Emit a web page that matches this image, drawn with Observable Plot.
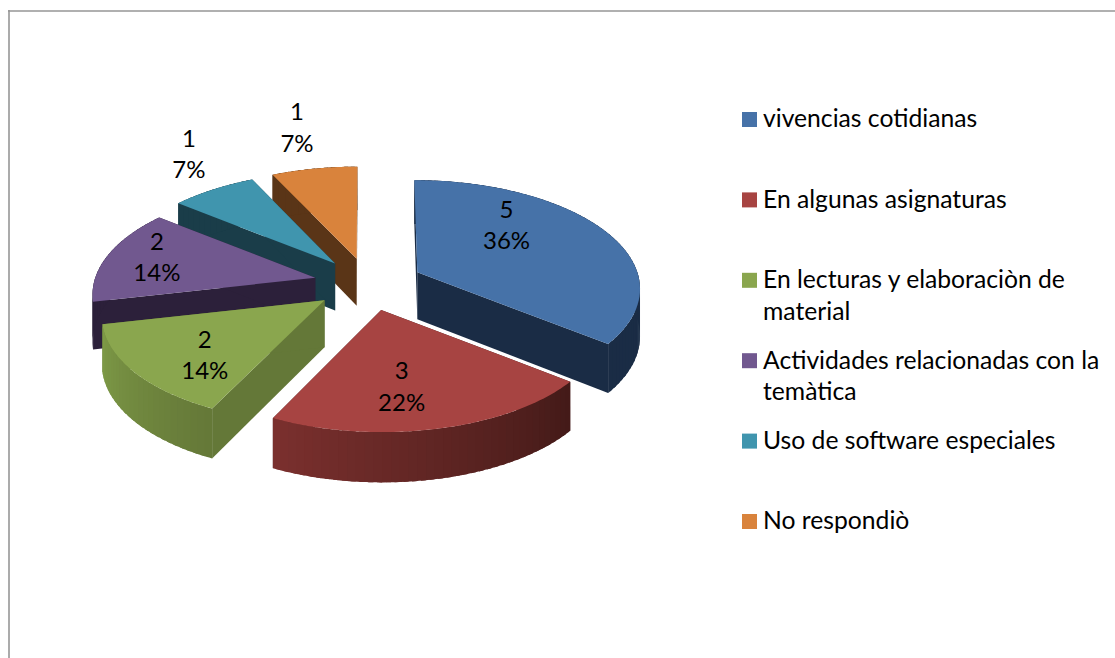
<!DOCTYPE html>
<html><head><meta charset="utf-8">
<script src="https://cdn.jsdelivr.net/npm/d3@7"></script>
<script src="https://cdn.jsdelivr.net/npm/@observablehq/plot@0.6"></script>
<style>html,body{margin:0;background:#fff}svg{display:block}</style>
</head><body><div id="chart"></div>
<script>
const categories = ["vivencias cotidianas","En algunas asignaturas","En lecturas y elaboraciòn de\nmaterial","Actividades relacionadas con la\ntemàtica","Uso de software especiales","No respondiò"];
const counts = [5,3,2,2,1,1];
const percents = ["36%","22%","14%","14%","7%","7%"];
const topColors = ["#4672a8","#a74442","#8aa64e","#71588f","#4095ae","#d9833c"];
const radialColors = ["#1a2c45","#431a18","#647838","#2c203a","#1a3d49","#5a3517"];
const rimStart = ["#1a2c45","#431a18","#647838","#2c203a","#1a3d49","#5a3517"];
const rimEnd = ["#1a2c45","#7b302e","#7f9b47","#2c203a","#1a3d49","#5a3517"];
const labelRadius = [0.65,0.67,0.70,0.77,1.448,1.545];
const labelAngle = [42.6,173,225.6,285,326.9,347.5];

const W=1115,H=658,CX=368,CY=283,R=220,K=105,P=0.14,EXPLODE=0.25,DEPTH=47;
const rad=d=>d*Math.PI/180;
const persp=Y=>1/(1-P*Y);
const total=d3.sum(counts);
const cum=d3.cumsum(counts);
const slices=counts.map((c,i)=>{
  const a0=(cum[i]-c)/total*360,a1=cum[i]/total*360,mid=(a0+a1)/2;
  const ex=EXPLODE*Math.sin(rad(mid)),ey=-EXPLODE*Math.cos(rad(mid)),s=persp(ey);
  return {i,a0,a1,ax:CX+ex*R*s,ay:CY+ey*K*s};
});
function rimPoint(sl,ang,r=1){
  const X=r*Math.sin(rad(ang)),Y=-r*Math.cos(rad(ang)),s=persp(Y);
  return {x:sl.ax+X*R*s+(sl.ax-CX)*(s-1)*0.5,y:sl.ay+Y*K*s,Y};
}
const drop=Y=>DEPTH*(1+0.07*Y);
const polys=[];
let pid=0;
function addPoly(pts,color){const id=pid++;pts.forEach(p=>polys.push({id,x:p.x,y:p.y,color}));}
// back-to-front: the last slice in the clockwise order is painted first
[...slices].reverse().forEach(sl=>{
  const apex={x:sl.ax,y:sl.ay,Y:0};
  const wallQuad=(p,q,col)=>addPoly([p,q,{x:q.x,y:q.y+drop(q.Y)},{x:p.x,y:p.y+drop(p.Y)}],col);
  wallQuad(apex,rimPoint(sl,sl.a0),radialColors[sl.i]);
  wallQuad(apex,rimPoint(sl,sl.a1),radialColors[sl.i]);
  const mix=d3.interpolateRgb(rimStart[sl.i],rimEnd[sl.i]);
  const n=Math.ceil((sl.a1-sl.a0)/2);
  for(let k=0;k<n;k++){
    const t0=sl.a0+(sl.a1-sl.a0)*k/n,t1=sl.a0+(sl.a1-sl.a0)*Math.min(k+1.6,n)/n;
    const col=d3.color(mix((k+.5)/n)).formatHex();
    const pts=[];
    for(let j=0;j<=4;j++)pts.push(rimPoint(sl,t0+(t1-t0)*j/4));
    const top=pts.map(p=>({x:p.x,y:p.y}));
    const bot=pts.map(p=>({x:p.x,y:p.y+drop(p.Y)})).reverse();
    addPoly(top.concat(bot),col);
  }
  const topPts=[apex];
  for(let k=0;k<=60;k++)topPts.push(rimPoint(sl,sl.a0+(sl.a1-sl.a0)*k/60));
  addPoly(topPts,topColors[sl.i]);
});
const labels=slices.map(sl=>{
  const p=rimPoint(sl,labelAngle[sl.i],labelRadius[sl.i]);
  return {x:p.x,y:p.y,text:counts[sl.i]+"\n"+percents[sl.i]};
});
const LEG_X=742,LEG_SIZE=15,LEG_Y0=119.5,LEG_STEP=80.4;
const legend=categories.map((t,i)=>({t,color:topColors[i],cy:LEG_Y0+LEG_STEP*i}));
const font="Lato, 'Noto Sans', sans-serif";

const chart=Plot.plot({
  width:W,height:H,margin:0,
  x:{domain:[0,W],range:[0,W],axis:null},
  y:{domain:[0,H],range:[0,H],axis:null},
  color:{type:"identity"},
  style:{background:"#fff",fontFamily:font},
  marks:[
    Plot.ruleY([10.5],{x1:8,x2:W,stroke:"#969696",strokeWidth:1.6}),
    Plot.ruleX([8.5],{y1:10,y2:H,stroke:"#969696",strokeWidth:1.6}),
    Plot.line(polys,{x:"x",y:"y",z:"id",fill:"color",stroke:"none",curve:"linear-closed"}),
    Plot.text(labels,{x:"x",y:"y",dy:-2,text:"text",fill:"#000",fontSize:24,lineHeight:1.31,textAnchor:"middle",lineAnchor:"middle"}),
    Plot.rect(legend,{x1:()=>LEG_X,x2:()=>LEG_X+LEG_SIZE,y1:d=>d.cy-LEG_SIZE/2,y2:d=>d.cy+LEG_SIZE/2,fill:"color"}),
    Plot.text(legend,{x:()=>LEG_X+20.5,y:d=>d.cy-15,text:"t",fill:"#000",fontSize:24.7,lineHeight:1.28,textAnchor:"start",lineAnchor:"top"})
  ]
});
document.getElementById("chart").append(chart);
</script></body></html>
